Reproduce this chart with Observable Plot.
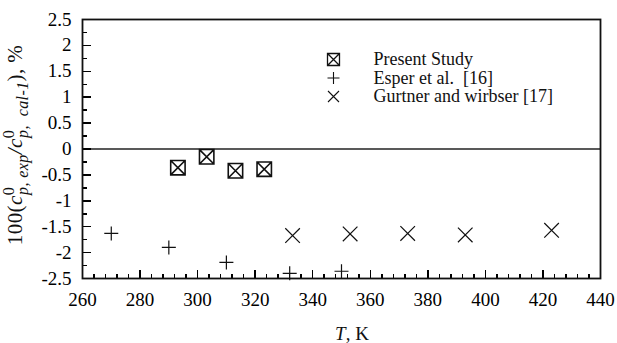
<!DOCTYPE html>
<html><head><meta charset="utf-8">
<script src="https://cdn.jsdelivr.net/npm/d3@7"></script>
<script src="https://cdn.jsdelivr.net/npm/@observablehq/plot@0.6"></script>
<style>body{margin:0;background:#fff} #chart{width:617px;height:343px}</style>
</head><body><div id="chart"></div>
<script>
// Data
const presentT = [293.15, 303.15, 313.15, 323.15];
const presentDev = [-0.36, -0.15, -0.42, -0.39];
const esperT = [270, 290, 310, 332, 350];
const esperDev = [-1.63, -1.90, -2.19, -2.40, -2.36];
const gurtnerT = [333, 353, 373, 393, 423];
const gurtnerDev = [-1.67, -1.64, -1.63, -1.66, -1.57];
const xTicks = [260, 280, 300, 320, 340, 360, 380, 400, 420, 440];
const yTicks = [-2.5, -2, -1.5, -1, -0.5, 0, 0.5, 1, 1.5, 2, 2.5];
const legendLabels = ["Present Study", "Esper et al.  [16]", "Gurtner and wirbser [17]"];
const xTitle = ["T", ", K"];

const xDomain = [260, 440], yDomain = [-2.5, 2.5];
const xMinor = d3.range(260, 440.01, 4).filter(v => !xTicks.includes(v));
const yMinor = d3.range(-2.25, 2.5, 0.5);

const W = 617, H = 343, ML = 82, MR = 17, MT = 19, MB = 65;
const FW = W - ML - MR, FH = H - MT - MB;
// pixel lengths of the inward ticks expressed in data units
const yPerPx = (yDomain[1] - yDomain[0]) / FH, xPerPx = (xDomain[1] - xDomain[0]) / FW;

const boxX = {draw(ctx, size) { const h = Math.sqrt(size / Math.PI);
  ctx.moveTo(-h, -h); ctx.lineTo(h, -h); ctx.lineTo(h, h); ctx.lineTo(-h, h); ctx.closePath();
  ctx.moveTo(-h, -h); ctx.lineTo(h, h); ctx.moveTo(h, -h); ctx.lineTo(-h, h); }};
const plusS = {draw(ctx, size) { const h = Math.sqrt(size / Math.PI);
  ctx.moveTo(-h, 0); ctx.lineTo(h, 0); ctx.moveTo(0, -h); ctx.lineTo(0, h); }};
const timesS = {draw(ctx, size) { const h = Math.sqrt(size / Math.PI);
  ctx.moveTo(-h, -h); ctx.lineTo(h, h); ctx.moveTo(h, -h); ctx.lineTo(-h, h); }};

const present = presentT.map((t, i) => ({t, d: presentDev[i]}));
const esper = esperT.map((t, i) => ({t, d: esperDev[i]}));
const gurtner = gurtnerT.map((t, i) => ({t, d: gurtnerDev[i]}));

const fmt = d => String(d);
const legSyms = [[boxX, 6, 1.3], [plusS, 6, 1.1], [timesS, 5.5, 1.1]];
const legendMarks = [];
legendLabels.forEach((lab, i) => {
  const dy = 40 + i * 18.5;
  legendMarks.push(Plot.dot([0], {frameAnchor: "top-left", dx: 251, dy, symbol: legSyms[i][0], r: legSyms[i][1], stroke: "#111", strokeWidth: legSyms[i][2], fill: "none"}));
  legendMarks.push(Plot.text([lab], {frameAnchor: "top-left", dx: 291, dy, text: d => d, textAnchor: "start", lineAnchor: "middle", fontSize: 18, fill: "#111"}));
});

const tickStyle = {stroke: "#000", shapeRendering: "crispEdges"};

const plot = Plot.plot({
  width: W, height: H,
  marginLeft: ML, marginRight: MR, marginTop: MT, marginBottom: MB,
  style: {fontFamily: "'Liberation Serif', 'Times New Roman', serif", fontSize: "19px", background: "#fff"},
  x: {domain: xDomain},
  y: {domain: yDomain},
  marks: [
    Plot.ruleY([0], {stroke: "#222", strokeWidth: 1.3}),
    // inward ticks along the bottom and left edges
    Plot.ruleX(xMinor, {x: d => d, y1: yDomain[0], y2: yDomain[0] + 4 * yPerPx, strokeWidth: 1.5, ...tickStyle}),
    Plot.ruleX(xTicks, {x: d => d, y1: yDomain[0], y2: yDomain[0] + 8 * yPerPx, strokeWidth: 1.5, ...tickStyle}),
    Plot.ruleY(yMinor, {y: d => d, x1: xDomain[0], x2: xDomain[0] + 5 * xPerPx, strokeWidth: 1.5, ...tickStyle}),
    Plot.ruleY(yTicks, {y: d => d, x1: xDomain[0], x2: xDomain[0] + 9 * xPerPx, strokeWidth: 1.5, ...tickStyle}),
    Plot.axisX(xTicks, {tickSize: 0, tickPadding: 14, tickFormat: fmt, label: null, fontSize: 19}),
    Plot.axisY(yTicks, {tickSize: 0, tickPadding: 11, tickFormat: fmt, label: null, fontSize: 19}),
    Plot.frame({stroke: "#111", strokeWidth: 1.8}),
    Plot.dot(present, {x: "t", y: "d", symbol: boxX, r: 7.2, stroke: "#111", strokeWidth: 1.6, fill: "none"}),
    Plot.dot(esper, {x: "t", y: "d", symbol: plusS, r: 7, stroke: "#111", strokeWidth: 1.2, fill: "none"}),
    Plot.dot(gurtner, {x: "t", y: "d", symbol: timesS, r: 7.3, stroke: "#111", strokeWidth: 1.2, fill: "none"}),
    ...legendMarks
  ]
});
document.getElementById("chart").appendChild(plot);

const svg = d3.select(plot);
// x-axis title
const xt = svg.append("text").attr("x", 352).attr("y", 340).attr("text-anchor", "middle")
  .attr("font-family", "'Liberation Serif', serif").attr("font-size", 19).attr("fill", "#111");
xt.append("tspan").attr("font-style", "italic").text(xTitle[0]);
xt.append("tspan").text(xTitle[1]);

// y-axis title with sub/superscripts
const yt = svg.append("text").attr("transform", "translate(22,145) rotate(-90)").attr("text-anchor", "middle")
  .attr("font-family", "'Liberation Serif', serif").attr("font-size", 21).attr("letter-spacing", 0.4).attr("fill", "#111");
yt.append("tspan").text("100(");
yt.append("tspan").attr("font-style", "italic").text("c");
yt.append("tspan").attr("font-size", 16).attr("dy", -8).text("0");
yt.append("tspan").attr("font-size", 16).attr("font-style", "italic").attr("dx", -8).attr("dy", 14).text("p");
yt.append("tspan").attr("font-size", 16).attr("font-style", "italic").text(", exp");
yt.append("tspan").attr("dy", -6).attr("font-style", "italic").text("/c");
yt.append("tspan").attr("font-size", 16).attr("dy", -8).text("0");
yt.append("tspan").attr("font-size", 16).attr("font-style", "italic").attr("dx", -8).attr("dy", 14).text("p");
yt.append("tspan").attr("font-size", 16).attr("font-style", "italic").text(",  cal-1");
yt.append("tspan").attr("dy", -6).text("), %");
</script>
</body></html>
